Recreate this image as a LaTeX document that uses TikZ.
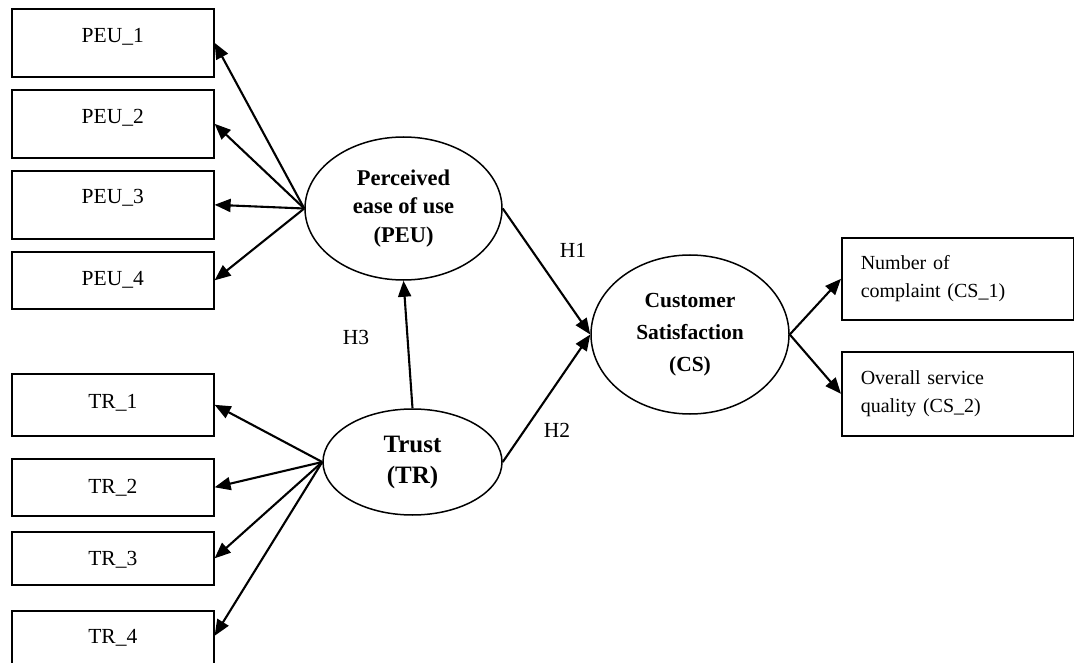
\documentclass[tikz,border=0pt]{standalone}
\usepackage{fontspec}
\setmainfont{Liberation Serif}
\usetikzlibrary{arrows.meta,shapes.geometric}
\begin{document}
\begin{tikzpicture}[x=1pt,y=-1pt,
  ind/.style={draw,line width=1.6pt,rectangle,inner sep=0pt,text width=202pt,align=center,
    anchor=north west,font=\fontsize{21.5}{26}\selectfont},
  indr/.style={draw,line width=1.6pt,rectangle,inner xsep=19pt,inner ysep=0pt,text width=194pt,
    align=left,anchor=north west,font=\fontsize{20}{28.5}\selectfont},
  lat/.style={draw,line width=1.5pt,ellipse,inner sep=0pt,align=center},
  arr/.style={-{Triangle[length=16pt,width=13pt]},line width=2.1pt},
  hyp/.style={font=\fontsize{21.5}{26}\selectfont}]
\useasboundingbox (0,0) rectangle (1074,663);
% indicator boxes
\node[ind,text height=33.7pt,text depth=34.3pt] (PEU1) at (11,8) {PEU\_1};
\node[ind,text height=33.7pt,text depth=34.3pt] (PEU2) at (11,89) {PEU\_2};
\node[ind,text height=32.7pt,text depth=35.3pt] (PEU3) at (11,170) {PEU\_3};
\node[ind,text height=34pt,text depth=23pt] (PEU4) at (11,251) {PEU\_4};
\node[ind,text height=34.3pt,text depth=27.7pt] (TR1) at (11,373) {TR\_1};
\node[ind,text height=34.3pt,text depth=22.7pt] (TR2) at (11,458) {TR\_2};
\node[ind,text height=34pt,text depth=19pt] (TR3) at (11,531) {TR\_3};
\node[ind,text height=33pt,text depth=27pt] (TR4) at (11,610) {TR\_4};
\node[indr,minimum height=82pt] (CS1) at (841,237) {Number of\\complaint (CS\_1)};
\node[indr,minimum height=84pt] (CS2) at (841,351) {Overall service\\quality (CS\_2)};
% latent variables
\node[lat,minimum width=197pt,minimum height=143pt,font=\bfseries\fontsize{22.5}{28.5}\selectfont]
  (PEU) at (403.5,208.5) {Perceived\\ease of use\\(PEU)};
\node[lat,minimum width=179pt,minimum height=106pt,font=\bfseries\fontsize{25}{31}\selectfont]
  (TR) at (412.5,462) {Trust\\(TR)};
\node[lat,minimum width=198pt,minimum height=159pt,font=\bfseries\fontsize{21.5}{32}\selectfont]
  (CS) at (690,334.5) {Customer\\Satisfaction\\(CS)};
% loadings
\foreach \t in {PEU1,PEU2,PEU3,PEU4} \draw[arr] (PEU.west) -- (\t.east);
\foreach \t in {TR1,TR2,TR3} \draw[arr] (TR.west) -- (\t.east);
\draw[arr] (TR.west) -- ([yshift=5pt]TR4.east);
\draw[arr] (CS.east) -- (CS1.west);
\draw[arr] (CS.east) -- (CS2.west);
% structural paths
\draw[arr] (PEU.east) -- (CS.west);
\draw[arr] (TR.east) -- (CS.west);
\draw[arr] (TR.north) -- (PEU.south);
% hypothesis labels
\node[hyp] (H1) at (573,250) {H1};
\node[hyp] (H2) at (557,430) {H2};
\node[hyp] (H3) at (356,337) {H3};
\end{tikzpicture}
\end{document}
